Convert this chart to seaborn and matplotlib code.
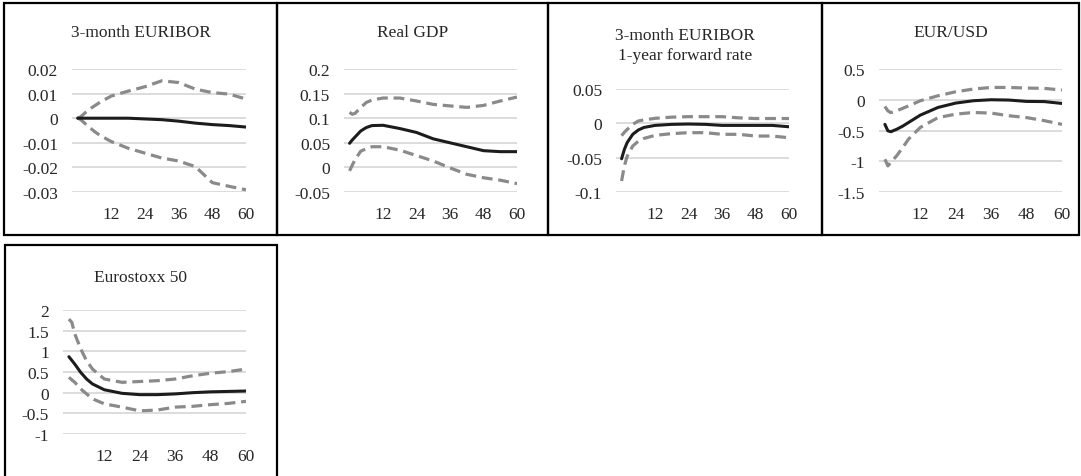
import numpy as np
import pandas as pd
import matplotlib
matplotlib.use('Agg')
import matplotlib.pyplot as plt
import seaborn as sns
from matplotlib.patches import Rectangle

horizon = [0, 1, 2, 4, 6, 8, 12, 18, 24, 30, 36, 42, 48, 54, 60]

# 3-month EURIBOR
euribor_mid = [0, 0, 0, 0, 0, 0, 0, 0, -0.0003, -0.0006, -0.0012, -0.002, -0.0026, -0.003, -0.0036]
euribor_up = [0, 0.0005, 0.0015, 0.0035, 0.005, 0.0065, 0.009, 0.011, 0.0128, 0.0152, 0.0145, 0.0118, 0.0104, 0.0098, 0.0078]
euribor_lo = [0, -0.0005, -0.0015, -0.0035, -0.0054, -0.007, -0.0095, -0.0122, -0.0142, -0.0162, -0.0174, -0.0197, -0.0262, -0.0277, -0.0291]

# Real GDP
gdp_mid = [0.049, 0.056, 0.062, 0.074, 0.081, 0.085, 0.0856, 0.079, 0.071, 0.058, 0.050, 0.042, 0.034, 0.032, 0.032]
gdp_up = [0.112, 0.108, 0.110, 0.122, 0.132, 0.137, 0.141, 0.141, 0.135, 0.128, 0.125, 0.122, 0.126, 0.135, 0.143]
gdp_lo = [-0.007, 0.005, 0.016, 0.033, 0.038, 0.042, 0.042, 0.035, 0.024, 0.013, -0.001, -0.014, -0.021, -0.026, -0.033]

# 3-month EURIBOR 1-year forward rate
fwd_mid = [-0.0516, -0.038, -0.028, -0.016, -0.0097, -0.006, -0.003, -0.0015, -0.001, -0.0015, -0.003, -0.003, -0.003, -0.003, -0.005]
fwd_up = [-0.018, -0.013, -0.009, -0.0015, 0.0034, 0.005, 0.0073, 0.009, 0.0097, 0.0097, 0.0097, 0.008, 0.007, 0.007, 0.007]
fwd_lo = [-0.084, -0.062, -0.048, -0.033, -0.026, -0.022, -0.0175, -0.015, -0.0136, -0.0136, -0.016, -0.016, -0.0185, -0.0185, -0.021]

# EUR/USD
fx_mid = [-0.40, -0.505, -0.52, -0.48, -0.43, -0.37, -0.25, -0.125, -0.054, -0.016, 0, -0.005, -0.027, -0.03, -0.06]
fx_up = [-0.11, -0.18, -0.21, -0.18, -0.14, -0.10, -0.016, 0.065, 0.13, 0.174, 0.20, 0.20, 0.19, 0.185, 0.158]
fx_lo = [-0.967, -1.076, -1.02, -0.91, -0.78, -0.64, -0.45, -0.29, -0.234, -0.207, -0.217, -0.26, -0.29, -0.34, -0.40]

# Eurostoxx 50
stoxx_mid = [0.87, 0.78, 0.69, 0.49, 0.33, 0.21, 0.07, -0.016, -0.048, -0.048, -0.03, 0.0, 0.02, 0.03, 0.04]
stoxx_up = [1.78, 1.70, 1.42, 1.06, 0.77, 0.57, 0.33, 0.25, 0.27, 0.29, 0.33, 0.41, 0.47, 0.51, 0.57]
stoxx_lo = [0.37, 0.31, 0.25, 0.09, -0.03, -0.15, -0.27, -0.35, -0.44, -0.42, -0.35, -0.33, -0.29, -0.26, -0.21]

titles = ['3-month EURIBOR', 'Real GDP', '3-month EURIBOR\n1-year forward rate', 'EUR/USD', 'Eurostoxx 50']
series = [(euribor_mid, euribor_up, euribor_lo), (gdp_mid, gdp_up, gdp_lo),
          (fwd_mid, fwd_up, fwd_lo), (fx_mid, fx_up, fx_lo), (stoxx_mid, stoxx_up, stoxx_lo)]
yticks = [[-0.03, -0.02, -0.01, 0, 0.01, 0.02],
          [-0.05, 0, 0.05, 0.1, 0.15, 0.2],
          [-0.1, -0.05, 0, 0.05],
          [-1.5, -1, -0.5, 0, 0.5],
          [-1, -0.5, 0, 0.5, 1, 1.5, 2]]
xticks = [12, 24, 36, 48, 60]

sns.set_theme(style='white')
plt.rcParams['font.family'] = ['Liberation Serif', 'DejaVu Serif']

W, H = 1081, 477
fig = plt.figure(figsize=(W / 100, H / 100), dpi=100)

# panel frames (pixels: left, top, right, bottom) and plot areas inside them
frames = [(4, 4, 277, 236), (277, 4, 548, 236), (548, 4, 822, 236), (822, 4, 1079, 236), (5, 246, 277, 480)]
plots = [(72, 70, 246, 193), (344, 70, 517, 193), (616, 90, 789, 193), (879, 70, 1062, 193), (63, 311, 246, 435)]
title_y = [33, 33, 46, 33, 278]
fs = 12.5


def fx(p):
    return p / W


def fy(p):
    return 1 - p / H


for i in range(5):
    l, t, r, b = frames[i]
    fig.patches.append(Rectangle((fx(l), fy(b)), fx(r - l), (b - t) / H, transform=fig.transFigure,
                                 fill=False, edgecolor='black', linewidth=1.6, zorder=0))
    pl, pt, pr, pb = plots[i]
    ax = fig.add_axes([fx(pl), fy(pb), fx(pr - pl), (pb - pt) / H])
    mid, up, lo = series[i]
    df = pd.DataFrame({'h': horizon, 'mid': mid, 'up': up, 'lo': lo})
    sns.lineplot(data=df, x='h', y='up', ax=ax, color='#8a8a8a', lw=2.3)
    sns.lineplot(data=df, x='h', y='lo', ax=ax, color='#8a8a8a', lw=2.3)
    for ln in ax.lines:
        ln.set_dashes((3.4, 1.8))
    sns.lineplot(data=df, x='h', y='mid', ax=ax, color='#1c1c1c', lw=2.2)
    yt = yticks[i]
    ax.set_ylim(yt[0], yt[-1])
    ax.set_yticks(yt)
    ax.set_yticklabels([f'{v:g}' for v in yt])
    ax.set_xlim(-2, 60)
    ax.set_xticks(xticks)
    ax.set_xticklabels([str(v) for v in xticks])
    ax.yaxis.grid(True, color='#d9d9d9', lw=1.3)
    ax.set_axisbelow(True)
    for s in ax.spines.values():
        s.set_visible(False)
    ax.tick_params(axis='both', length=0, labelsize=fs, labelcolor='#262626')
    ax.tick_params(axis='y', pad=10)
    ax.tick_params(axis='x', pad=10)
    ax.set_xlabel('')
    ax.set_ylabel('')
    fig.text(fx((l + r) / 2), fy(title_y[i]), titles[i], ha='center', va='center',
             fontsize=fs, color='#262626', linespacing=1.25)

fig.savefig('out.png', dpi=100)
